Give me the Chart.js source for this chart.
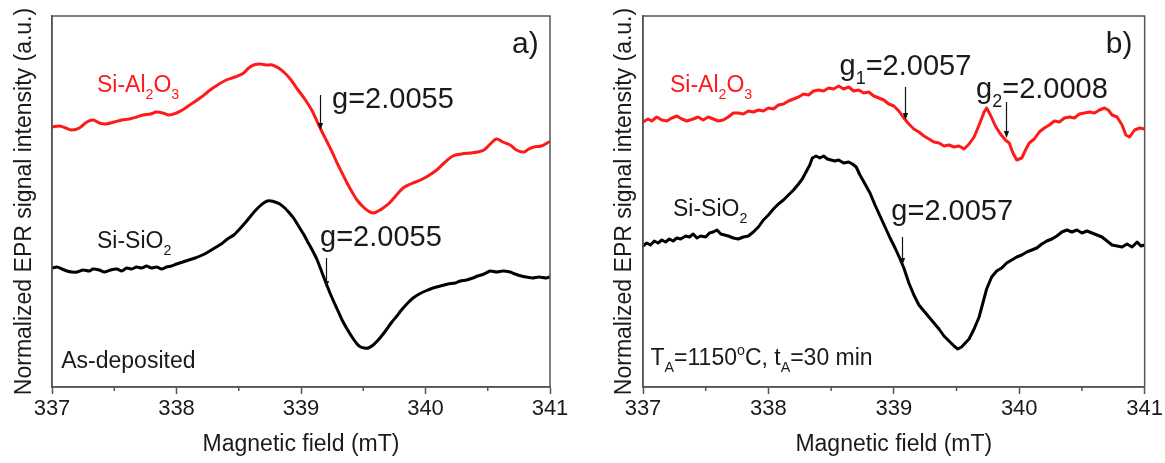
<!DOCTYPE html>
<html><head><meta charset="utf-8">
<script src="https://cdn.jsdelivr.net/npm/chart.js@4.4.0/dist/chart.umd.min.js"></script>
<style>
html,body{margin:0;padding:0;background:#fff;width:1165px;height:463px;overflow:hidden}
canvas{position:absolute;top:0}
#ca{left:0}
#cb{left:600px}
</style></head><body>
<canvas id="ca" width="600" height="463"></canvas>
<canvas id="cb" width="565" height="463"></canvas>
<script>
// ---------- data (magnetic field in mT, normalized EPR signal in a.u.) ----------
const FIELD_TICKS = [337, 338, 339, 340, 341];
const FIELD_MINOR = [337.5, 338.5, 339.5, 340.5];

// panel a) as-deposited, Si-Al2O3
const aAlField = [337.00,337.06,337.11,337.16,337.22,337.28,337.33,337.38,337.43,337.50,337.56,337.62,337.68,337.73,337.79,337.84,337.89,337.94,338.00,338.06,338.13,338.20,338.27,338.33,338.40,338.47,338.54,338.58,338.62,338.67,338.72,338.77,338.82,338.87,338.92,338.97,339.03,339.09,339.15,339.21,339.25,339.29,339.33,339.37,339.41,339.45,339.50,339.54,339.58,339.62,339.66,339.71,339.76,339.82,339.88,339.96,340.02,340.09,340.15,340.22,340.29,340.36,340.42,340.47,340.52,340.57,340.62,340.68,340.73,340.79,340.83,340.87,340.93,340.99];
const aAlSignal = [260,261,259,257,259,265,267,264,263,265,267,268,270,272,273,275,274,272,274,278,284,290,297,302,307,310,314,319,322,323,322,322,319,314,307,298,288,276,260,245,235,224,214,204,195,187,180,176,174,176,179,184,191,199,203,207,211,217,224,231,233,234,235,237,243,248,245,242,237,235,238,240,241,245];

// panel a) as-deposited, Si-SiO2
const aSiField = [337.00,337.04,337.08,337.12,337.16,337.20,337.25,337.30,337.33,337.38,337.42,337.47,337.52,337.56,337.60,337.64,337.68,337.72,337.76,337.80,337.84,337.88,337.92,337.96,338.00,338.05,338.10,338.15,338.19,338.24,338.28,338.32,338.36,338.41,338.46,338.50,338.55,338.59,338.63,338.67,338.70,338.73,338.76,338.79,338.83,338.87,338.90,338.94,338.98,339.02,339.05,339.09,339.13,339.17,339.21,339.25,339.29,339.33,339.37,339.41,339.45,339.48,339.51,339.54,339.58,339.62,339.66,339.69,339.73,339.77,339.80,339.85,339.90,339.95,340.00,340.06,340.12,340.18,340.24,340.28,340.33,340.38,340.42,340.47,340.52,340.57,340.62,340.68,340.72,340.77,340.81,340.86,340.91,340.97,341.00];
const aSiSignal = [119,120,118,116,115,115,117,116,118,117,115,117,118,116,119,118,120,119,121,119,120,118,120,121,123,125,127,129,131,134,137,140,143,148,152,157,164,170,176,181,184,186,186,185,183,179,175,169,161,153,146,137,127,114,101,89,78,67,58,50,43,40,39,39,42,47,53,58,65,71,76,83,89,93,96,99,101,103,104,106,107,109,111,113,116,115,116,115,113,111,110,109,110,109,110];

// panel b) annealed, Si-Al2O3
const bAlField = [337.00,337.04,337.07,337.11,337.15,337.19,337.23,337.27,337.31,337.35,337.40,337.44,337.48,337.52,337.56,337.60,337.64,337.68,337.72,337.76,337.80,337.84,337.88,337.92,337.96,338.00,338.04,338.08,338.12,338.16,338.20,338.24,338.28,338.32,338.36,338.40,338.44,338.48,338.52,338.56,338.60,338.64,338.68,338.72,338.76,338.80,338.84,338.88,338.92,338.96,339.00,339.04,339.08,339.12,339.16,339.20,339.24,339.28,339.32,339.36,339.40,339.44,339.48,339.52,339.56,339.60,339.64,339.68,339.72,339.74,339.77,339.81,339.85,339.89,339.92,339.95,339.98,340.02,340.05,340.08,340.12,340.16,340.20,340.24,340.28,340.32,340.36,340.40,340.44,340.48,340.52,340.56,340.60,340.64,340.68,340.71,340.74,340.78,340.82,340.85,340.88,340.92,340.96,341.00];
const bAlSignal = [265,268,266,270,267,266,269,271,268,266,268,270,267,270,268,266,267,270,274,274,273,276,275,277,276,279,278,282,283,286,288,290,293,292,296,297,296,299,298,301,298,300,296,297,294,295,291,289,287,283,281,276,269,263,258,255,251,248,245,244,241,242,240,241,238,243,250,262,275,279,272,261,253,247,244,234,227,229,237,244,248,255,259,262,266,265,269,270,269,273,274,275,274,277,279,277,272,270,262,252,250,257,259,258];

// panel b) annealed, Si-SiO2
const bSiField = [337.00,337.03,337.06,337.09,337.12,337.15,337.18,337.21,337.24,337.27,337.30,337.34,337.37,337.40,337.43,337.46,337.50,337.53,337.56,337.59,337.62,337.65,337.68,337.72,337.76,337.80,337.84,337.88,337.92,337.96,338.00,338.04,338.08,338.12,338.16,338.20,338.24,338.27,338.30,338.33,338.35,338.38,338.41,338.44,338.47,338.50,338.53,338.56,338.60,338.64,338.67,338.70,338.73,338.77,338.81,338.85,338.89,338.93,338.97,339.01,339.05,339.08,339.12,339.16,339.20,339.24,339.28,339.32,339.36,339.40,339.44,339.48,339.51,339.54,339.57,339.60,339.64,339.68,339.71,339.74,339.78,339.82,339.86,339.90,339.94,339.98,340.02,340.06,340.10,340.14,340.18,340.22,340.26,340.30,340.34,340.38,340.42,340.46,340.50,340.54,340.58,340.62,340.66,340.70,340.74,340.78,340.82,340.86,340.90,340.94,340.97,341.00];
const bSiSignal = [141,144,142,146,144,147,145,148,146,149,148,151,150,153,149,151,150,154,155,157,153,152,151,149,148,150,151,155,160,167,172,178,183,187,192,197,203,208,215,222,229,231,229,231,228,227,226,227,224,225,223,220,212,203,194,182,171,160,149,139,128,119,104,92,82,76,70,64,58,51,46,41,38,40,44,48,58,70,84,98,110,116,119,124,127,130,132,135,137,139,143,146,148,151,155,157,155,157,154,156,154,152,150,146,142,141,140,143,140,145,141,142];

// ---------- styling ----------
const FONT = '"Liberation Sans", Arial, Helvetica, sans-serif';
const AXIS_COLOR = '#555';
const TEXT_COLOR = '#1a1a1a';
const RED = '#ff1a1a';

function pairs(xs, ys) { return xs.map((x, i) => ({x, y: ys[i]})); }

function drawRich(ctx, segs, x, y, size, color) {
  let cx = x;
  ctx.fillStyle = color;
  ctx.textBaseline = 'alphabetic';
  ctx.textAlign = 'left';
  for (const [t, kind] of segs) {
    let fs = size, dy = 0;
    if (kind === 'sub') { fs = size * 0.62; dy = size * 0.3; }
    else if (kind === 'sup') { fs = size * 0.62; dy = -size * 0.42; }
    ctx.font = fs + 'px ' + FONT;
    ctx.fillText(t, cx, y + dy);
    cx += ctx.measureText(t).width;
  }
}

const decorPlugin = {
  id: 'decor',
  afterDraw(chart, args, opts) {
    const {ctx, chartArea: a, scales: {x, y}} = chart;
    ctx.save();
    // frame
    ctx.strokeStyle = AXIS_COLOR; ctx.lineWidth = 1.5;
    ctx.strokeRect(a.left, a.top, a.right - a.left, a.bottom - a.top);
    // minor ticks
    ctx.beginPath();
    for (const v of FIELD_MINOR) {
      const px = x.getPixelForValue(v);
      ctx.moveTo(px, a.bottom); ctx.lineTo(px, a.bottom + 4);
    }
    ctx.stroke();
    // texts
    for (const n of opts.notes || []) {
      drawRich(ctx, n.segs, x.getPixelForValue(n.x), y.getPixelForValue(n.y), n.size, n.color || TEXT_COLOR);
    }
    // arrows
    ctx.strokeStyle = '#111'; ctx.fillStyle = '#111'; ctx.lineWidth = 1.2;
    for (const ar of opts.arrows || []) {
      const px = Math.round(x.getPixelForValue(ar.x)) + 0.5;
      const p1 = y.getPixelForValue(ar.y1), p2 = y.getPixelForValue(ar.y2);
      ctx.beginPath(); ctx.moveTo(px, p1); ctx.lineTo(px, p2 - 4); ctx.stroke();
      ctx.beginPath(); ctx.moveTo(px - 2.6, p2 - 7); ctx.lineTo(px + 2.6, p2 - 7); ctx.lineTo(px, p2); ctx.closePath(); ctx.fill();
    }
    ctx.restore();
  }
};

function makeChart(id, yWidth, padRight, datasets, notes, arrows) {
  return new Chart(document.getElementById(id), {
    type: 'scatter',
    data: {datasets},
    plugins: [decorPlugin],
    options: {
      responsive: false, animation: false, devicePixelRatio: 1,
      layout: {padding: {left: 0, right: padRight, top: 16, bottom: 0}},
      plugins: {legend: {display: false}, tooltip: {enabled: false}, decor: {notes, arrows}},
      elements: {point: {radius: 0}},
      scales: {
        x: {
          type: 'linear', min: FIELD_TICKS[0], max: FIELD_TICKS[FIELD_TICKS.length - 1],
          afterBuildTicks: s => { s.ticks = FIELD_TICKS.map(v => ({value: v})); },
          ticks: {font: {family: FONT, size: 22}, color: TEXT_COLOR, padding: 2, callback: v => String(v)},
          grid: {drawOnChartArea: false, drawTicks: true, tickLength: 7, tickColor: AXIS_COLOR, tickWidth: 1.5},
          border: {display: true, color: AXIS_COLOR, width: 1.5},
          title: {display: true, text: 'Magnetic field (mT)', font: {family: FONT, size: 23}, color: TEXT_COLOR, padding: {top: 0, bottom: 5}},
          afterFit: s => { s.height = 76; }
        },
        y: {
          min: 0, max: 371,
          ticks: {display: false},
          grid: {display: false, drawTicks: false},
          border: {display: true, color: AXIS_COLOR, width: 1.5},
          title: {display: true, text: 'Normalized EPR signal intensity (a.u.)', font: {family: FONT, size: 23}, color: TEXT_COLOR, padding: {top: 11, bottom: 0}},
          afterFit: s => { s.width = yWidth; }
        }
      }
    }
  });
}

function lineSet(xs, ys, color, tension) {
  return {data: pairs(xs, ys), showLine: true, borderColor: color, borderWidth: 3, tension, pointRadius: 0, borderJoinStyle: 'round', borderCapStyle: 'round'};
}

makeChart('ca', 52, 50,
  [lineSet(aSiField, aSiSignal, '#000', 0.2), lineSet(aAlField, aAlSignal, RED, 0.35)],
  [
    {x: 337.361, y: 295, size: 23, color: RED, segs: [['Si-Al'], ['2', 'sub'], ['O'], ['3', 'sub']]},
    {x: 339.249, y: 279, size: 29, segs: [['g=2.0055']]},
    {x: 337.361, y: 139, size: 23, segs: [['Si-SiO'], ['2', 'sub']]},
    {x: 339.153, y: 141, size: 29, segs: [['g=2.0055']]},
    {x: 337.074, y: 19, size: 23, segs: [['As-deposited']]},
    {x: 340.695, y: 334, size: 30, segs: [['a)']]}
  ],
  [{x: 339.153, y1: 292, y2: 257}, {x: 339.201, y1: 129, y2: 99}]
);

makeChart('cb', 43, 19,
  [lineSet(bSiField, bSiSignal, '#000', 0), lineSet(bAlField, bAlSignal, RED, 0)],
  [
    {x: 337.215, y: 295, size: 23, color: RED, segs: [['Si-Al'], ['2', 'sub'], ['O'], ['3', 'sub']]},
    {x: 338.567, y: 312, size: 29, segs: [['g'], ['1', 'sub'], ['=2.0057']]},
    {x: 339.656, y: 289, size: 29, segs: [['g'], ['2', 'sub'], ['=2.0008']]},
    {x: 337.239, y: 171, size: 23, segs: [['Si-SiO'], ['2', 'sub']]},
    {x: 338.980, y: 167, size: 29, segs: [['g=2.0057']]},
    {x: 337.060, y: 22, size: 23, segs: [['T'], ['A', 'sub'], ['=1150'], ['o', 'sup'], ['C, t'], ['A', 'sub'], ['=30 min']]},
    {x: 340.690, y: 334, size: 30, segs: [['b)']]}
  ],
  [{x: 339.091, y1: 300, y2: 267}, {x: 339.895, y1: 285, y2: 249}, {x: 339.068, y1: 150, y2: 122}]
);
</script>
</body></html>
